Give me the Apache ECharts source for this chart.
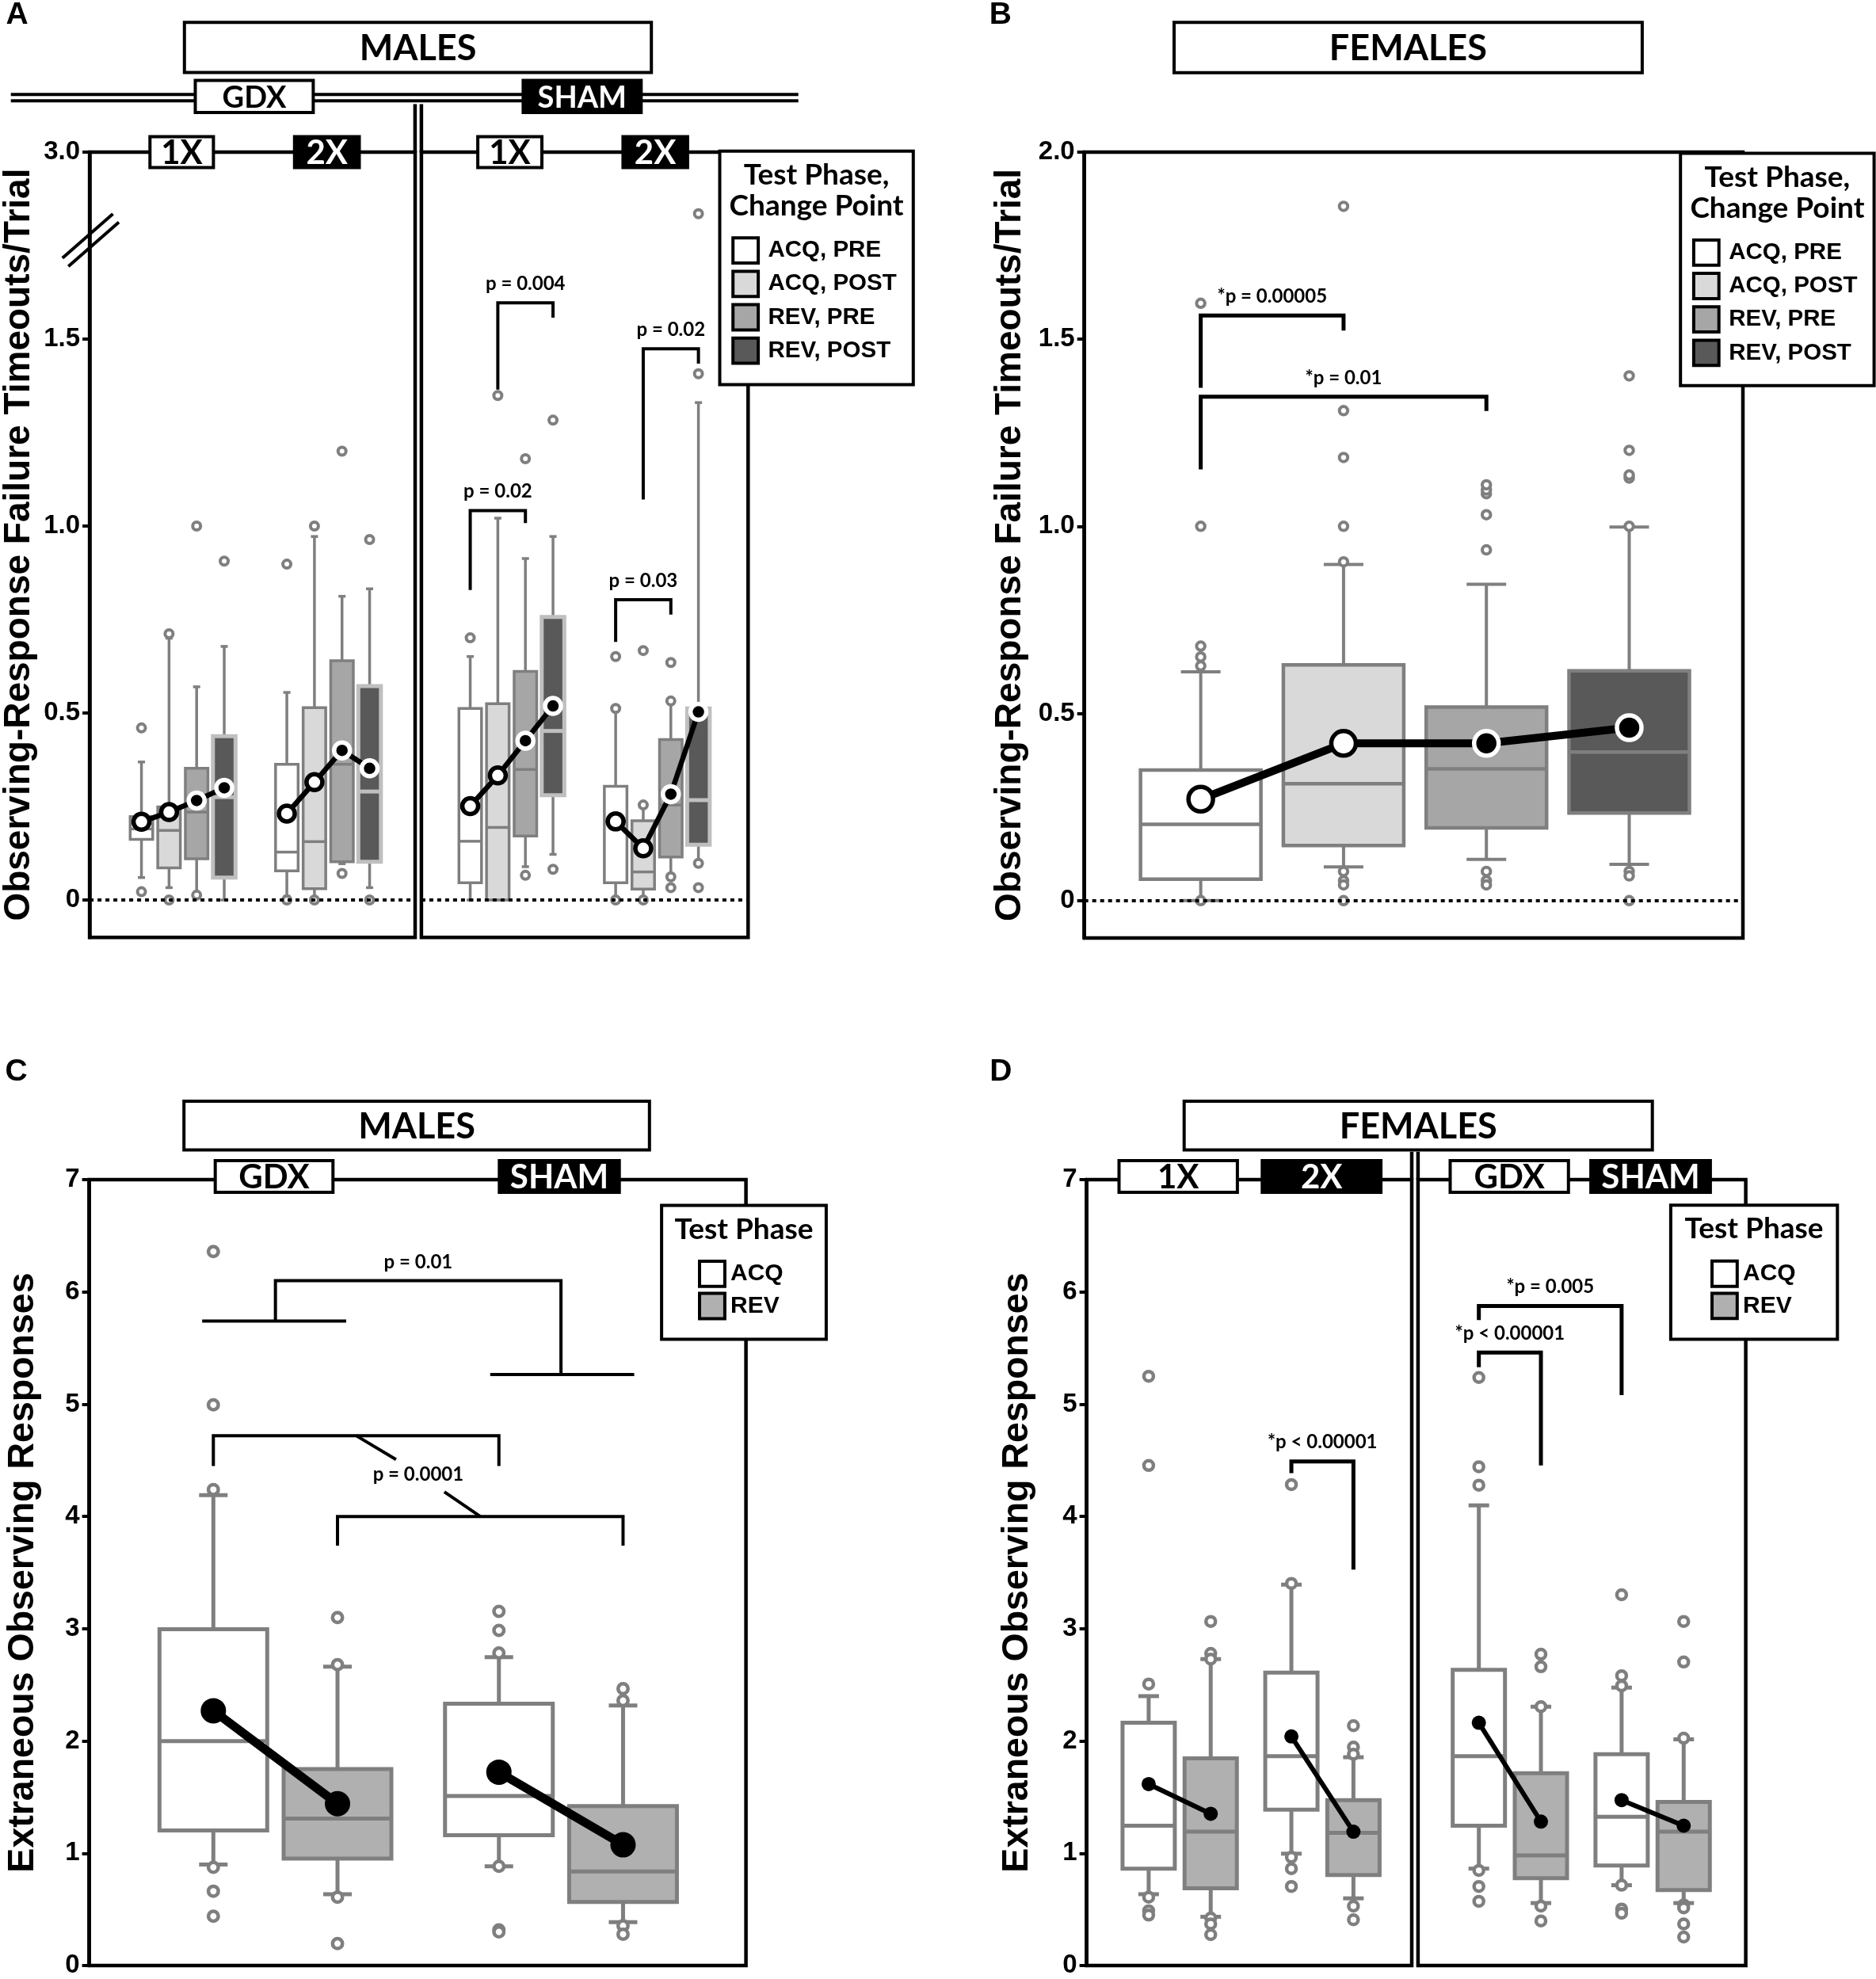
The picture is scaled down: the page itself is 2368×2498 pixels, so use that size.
<!DOCTYPE html>
<html>
<head>
<meta charset="utf-8">
<script src="https://cdn.jsdelivr.net/npm/echarts@6/dist/echarts.min.js"></script>
<style>
html, body { margin: 0; padding: 0; background: #fff; }
#main { width: 2368px; height: 2498px; }
</style>
</head>
<body>
<div id="main"></div>
<script>
// ---------- data ----------
var phases4 = ['ACQ, PRE', 'ACQ, POST', 'REV, PRE', 'REV, POST'];
var phases2 = ['ACQ', 'REV'];
var ticksA = [0, 0.5, 1, 1.5, 2];          // 2 sits above the axis break and reads 3.0

// panel A (males, failure timeouts/trial): [min, Q1, median, Q3, max] per phase
var boxGdx1x = [[0.06, 0.162, 0.19, 0.223, 0.369], [0.033, 0.086, 0.186, 0.249, 0.70],
                [0.017, 0.11, 0.235, 0.352, 0.57], [0, 0.06, 0.275, 0.438, 0.678]];
var boxGdx2x = [[0.01, 0.078, 0.128, 0.363, 0.555], [0.005, 0.03, 0.156, 0.514, 0.972],
                [0.097, 0.102, 0.363, 0.64, 0.812], [0.033, 0.102, 0.29, 0.572, 0.832]];
var boxSham1x = [[0, 0.046, 0.157, 0.512, 0.651], [0, 0, 0.194, 0.525, 1.021],
                 [0.089, 0.171, 0.349, 0.611, 0.913], [0.122, 0.28, 0.452, 0.757, 0.972]];
var boxSham2x = [[0, 0.046, 0.21, 0.304, 0.512], [0, 0.029, 0.075, 0.212, 0.254],
                 [0.062, 0.115, 0.254, 0.429, 0.532], [0.098, 0.148, 0.267, 0.512, 1.33]];
var meanGdx1x = [0.209, 0.235, 0.266, 0.30];
var meanGdx2x = [0.231, 0.315, 0.40, 0.352];
var meanSham1x = [0.251, 0.333, 0.426, 0.519];
var meanSham2x = [0.21, 0.138, 0.283, 0.503];
// outliers: [phase index, value]
var outGdx1x = [[0, 0.46], [0, 0.022], [1, 0.712], [1, 0], [2, 1.0], [2, 0.013], [3, 0.906]];
var outGdx2x = [[0, 0.898], [0, 0], [1, 1.0], [1, 0], [2, 1.2], [2, 0.071], [3, 0.964], [3, 0]];
var outSham1x = [[0, 0.701], [1, 1.349], [2, 1.18], [2, 0.066], [3, 1.283], [3, 0.082]];
var outSham2x = [[0, 0.651], [0, 0.512], [0, 0], [1, 0.667], [1, 0.254], [1, 0], [2, 0.635],
                 [2, 0.532], [2, 0.062], [2, 0.033], [3, 1.835], [3, 1.407], [3, 0.098], [3, 0.033]];
// brackets: [from box, to box, y at from end, y of bar, y at to end, text]
var sigA = [[0, 2, 0.829, 1.041, 1.008, 'p = 0.02'], [1, 3, 1.365, 1.597, 1.557, 'p = 0.004'],
            [4, 6, 0.69, 0.803, 0.763, 'p = 0.03'], [5, 7, 1.071, 1.474, 1.434, 'p = 0.02']];

// panel B (females, failure timeouts/trial)
var boxB = [[0, 0.057, 0.204, 0.349, 0.611], [0.09, 0.147, 0.312, 0.63, 0.898],
            [0.11, 0.194, 0.352, 0.517, 0.845], [0.097, 0.234, 0.397, 0.614, 0.998]];
var meanB = [0.271, 0.42, 0.42, 0.462];
var outB = [[0, 0.627], [0, 0.651], [0, 0.68], [0, 1.0], [0, 1.596], [0, 0],
            [1, 0.905], [1, 1.0], [1, 1.184], [1, 1.309], [1, 1.855], [1, 0.078], [1, 0.053], [1, 0.042], [1, 0],
            [2, 0.937], [2, 1.031], [2, 1.087], [2, 1.097], [2, 1.111], [2, 0.078], [2, 0.053], [2, 0.042],
            [3, 1.0], [3, 1.129], [3, 1.137], [3, 1.203], [3, 1.402], [3, 0.078], [3, 0.066], [3, 0]];
var sigB = [[0, 1, 1.37, 1.563, 1.523, '*p = 0.00005'], [0, 2, 1.152, 1.346, 1.308, '*p = 0.01']];

// panel C (males, extraneous observing responses)
var boxCGdx = [[0.901, 1.204, 1.999, 2.996, 4.19], [0.636, 0.954, 1.31, 1.75, 2.662]];
var boxCSham = [[0.885, 1.161, 1.511, 2.333, 2.747], [0.387, 0.567, 0.838, 1.421, 2.317]];
var meanCGdx = [2.27, 1.442];
var meanCSham = [1.723, 1.076];
var outCGdx = [[0, 6.36], [0, 4.995], [0, 4.24], [0, 0.875], [0, 0.663], [0, 0.44],
               [1, 3.10], [1, 2.68], [1, 0.61], [1, 0.196]];
var outCSham = [[0, 3.155], [0, 2.985], [0, 2.784], [0, 0.885], [0, 0.318], [0, 0.30],
                [1, 2.466], [1, 2.36], [1, 0.355], [1, 0.28]];
var sigCGroup = [5.74, 5.265, 6.1, 'p = 0.01'];          // GDX bar, SHAM bar, top
var sigCPhase = [[0, 2, 4.45, 4.72], [1, 3, 3.74, 4.0]]; // boxes, leg base, bar
var sigCPhaseLabel = [4.374, 'p = 0.0001'];

// panel D (females, extraneous observing responses)
var boxD1x = [[0.636, 0.864, 1.246, 2.163, 2.40], [0.435, 0.689, 1.193, 1.845, 2.73]];
var boxD2x = [[0.997, 1.389, 1.866, 2.609, 3.393], [0.599, 0.806, 1.182, 1.474, 1.856]];
var boxDGdx = [[0.864, 1.246, 1.866, 2.635, 4.099], [0.557, 0.779, 0.981, 1.713, 2.306]];
var boxDSham = [[0.716, 0.891, 1.326, 1.882, 2.476], [0.557, 0.673, 1.193, 1.458, 2.015]];
var meanD1x = [1.617, 1.352];
var meanD2x = [2.041, 1.193];
var meanDGdx = [2.163, 1.283];
var meanDSham = [1.474, 1.246];
var outD1x = [[0, 2.508], [0, 5.249], [0, 4.454], [0, 0.61], [0, 0.488], [0, 0.45],
              [1, 3.065], [1, 2.78], [1, 2.73], [1, 0.424], [1, 0.371], [1, 0.276]];
var outD2x = [[0, 4.284], [0, 3.404], [0, 0.965], [0, 0.864], [0, 0.705],
              [1, 2.137], [1, 1.946], [1, 1.882], [1, 0.53], [1, 0.408]];
var outDGdx = [[0, 5.238], [0, 4.443], [0, 4.279], [0, 0.848], [0, 0.705], [0, 0.573],
               [1, 2.773], [1, 2.662], [1, 2.306], [1, 0.53], [1, 0.398]];
var outDSham = [[0, 3.303], [0, 2.582], [0, 2.492], [0, 0.716], [0, 0.504], [0, 0.467],
                [1, 3.065], [1, 2.704], [1, 2.025], [1, 0.541], [1, 0.514], [1, 0.371], [1, 0.255]];
var sigDLeft = [[2, 3, 4.385, 4.49, 3.526, '*p < 0.00001']];
var sigDRight = [[0, 1, 5.33, 5.46, 4.454, '*p < 0.00001'], [0, 2, 5.75, 5.875, 5.08, '*p = 0.005']];

// ---------- layout ----------
var S = 2368 / 1487;                 // measured in 1487-wide units, drawn at 2368
function p(v) { return Math.round(v * S * 10) / 10; }
var GRAY = '#7f7f7f';
var ARIAL = '"Liberation Sans", Arial, sans-serif';
var HEAD = 'Lato, "Open Sans", sans-serif';
var FILL4 = ['#ffffff', '#d9d9d9', '#a6a6a6', '#595959'];
var FILL2 = ['#ffffff', '#b0b0b0'];
var FRAME = 4.5;

var slotsA = [[1.77, 2.77, 3.77, 4.77], [7.04, 8.04, 9.04, 10.04]];
var slotsAFlat = slotsA[0].concat(slotsA[1]);
var slotsB = [1, 2, 3, 4];
var slots2 = [1, 2, 3.3, 4.3];

var gridBoxes = [
  [71, 120.5, 258, 622.5],     // A: GDX
  [334, 120.5, 259, 622.5],    // A: SHAM
  [859.5, 120.5, 522, 623],    // B
  [70.7, 935, 520.6, 623],     // C
  [861.3, 935, 257.7, 623],    // D: 1X / 2X
  [1124, 935, 259.8, 623]      // D: GDX / SHAM
];
var xRanges = [[-0.11, 11.69], [0, 11.84], [0.185, 4.796], [0, 5.29], [0, 5.24], [0.02, 5.30]];

var grids = gridBoxes.map(function (g) {
  return { left: p(g[0]), top: p(g[1]), width: p(g[2]), height: p(g[3]),
           show: true, borderColor: '#000', borderWidth: FRAME, backgroundColor: 'transparent' };
});
var xAxes = xRanges.map(function (r, i) {
  return { type: 'value', gridIndex: i, min: r[0], max: r[1], show: false };
});

var labelFont = { fontSize: 33, fontWeight: 'bold', fontFamily: ARIAL, color: '#000', margin: 12 };
function yAxisOf(gi, min, max, name, gap, size, ticks, fmt) {
  var ax = {
    type: 'value', gridIndex: gi, min: min, max: max,
    splitLine: { show: false },
    axisLine: { show: true, onZero: false, lineStyle: { color: '#000', width: FRAME } },
    axisTick: { show: true, length: 9, lineStyle: { color: '#000', width: 4 } },
    axisLabel: Object.assign({ formatter: fmt }, labelFont),
    name: name, nameLocation: 'middle', nameGap: gap,
    nameTextStyle: { fontSize: size, fontWeight: 'bold', fontFamily: ARIAL, color: '#000' }
  };
  if (ticks) {
    ax.axisTick.customValues = ticks;
    ax.axisLabel.customValues = ticks;
  } else {
    ax.interval = 1;
  }
  return ax;
}
function hiddenY(gi, min, max) {
  return { type: 'value', gridIndex: gi, min: min, max: max, show: false };
}
var yAxes = [
  yAxisOf(0, -0.1, 2, 'Observing-Response Failure Timeouts/Trial', 66, 46, ticksA,
    function (v) { return v === 2 ? '3.0' : (v === 0 ? '0' : v.toFixed(1)); }),
  hiddenY(1, -0.1, 2),
  yAxisOf(2, -0.1, 2, 'Observing-Response Failure Timeouts/Trial', 70, 46, ticksA,
    function (v) { return v === 0 ? '0' : v.toFixed(1); }),
  yAxisOf(3, 0, 7, 'Extraneous Observing Responses', 60, 46.5, null, function (v) { return String(v); }),
  yAxisOf(4, 0, 7, 'Extraneous Observing Responses', 64, 46.5, null, function (v) { return String(v); }),
  hiddenY(5, 0, 7)
];

// ---------- series builders ----------
function boxRenderer(st) {
  return function (params, api) {
    var x = api.value(0), k = api.value(6);
    var lo = api.coord([x, api.value(1)]), q1 = api.coord([x, api.value(2)]);
    var md = api.coord([x, api.value(3)]), q3 = api.coord([x, api.value(4)]);
    var hi = api.coord([x, api.value(5)]);
    var cx = lo[0], hw = st.boxW / 2, cw = st.capW / 2;
    var edge = st.edge[k], ew = st.edgeW[k];
    function ws() { return { stroke: GRAY, lineWidth: st.whisker }; }
    return { type: 'group', children: [
      { type: 'line', shape: { x1: cx, y1: lo[1], x2: cx, y2: hi[1] }, style: ws() },
      { type: 'line', shape: { x1: cx - cw, y1: lo[1], x2: cx + cw, y2: lo[1] }, style: ws() },
      { type: 'line', shape: { x1: cx - cw, y1: hi[1], x2: cx + cw, y2: hi[1] }, style: ws() },
      { type: 'rect', shape: { x: cx - hw, y: q3[1], width: 2 * hw, height: q1[1] - q3[1] },
        style: { fill: st.fill[k], stroke: edge, lineWidth: ew } },
      { type: 'line', shape: { x1: cx - hw, y1: md[1], x2: cx + hw, y2: md[1] },
        style: { stroke: edge, lineWidth: ew } }
    ] };
  };
}

var series = [];
function addGroup(gi, box, mean, out, xs, st) {
  series.push({
    type: 'custom', xAxisIndex: gi, yAxisIndex: gi, z: 2, silent: true,
    data: box.map(function (b, k) { return [xs[k]].concat(b, [k]); }),
    renderItem: boxRenderer(st)
  });
  series.push({
    type: 'scatter', xAxisIndex: gi, yAxisIndex: gi, z: 3, silent: true,
    symbol: 'circle', symbolSize: st.outSize,
    itemStyle: { color: '#fff', borderColor: GRAY, borderWidth: st.outLine, opacity: 1 },
    data: out.map(function (o) { return [xs[o[0]], o[1]]; })
  });
  series.push({
    type: 'line', xAxisIndex: gi, yAxisIndex: gi, z: 4, silent: true,
    symbol: 'circle', symbolSize: st.meanSize, showSymbol: true,
    lineStyle: { color: '#000', width: st.meanLine },
    data: mean.map(function (m, k) { return { value: [xs[k], m], itemStyle: st.meanStyle(k) }; })
  });
}
function addZeroLine(gi) {
  series.push({
    type: 'scatter', xAxisIndex: gi, yAxisIndex: gi, z: 1, silent: true, data: [],
    markLine: { silent: true, symbol: ['none', 'none'], label: { show: false },
      lineStyle: { color: '#000', width: 4, type: [5, 5] }, data: [{ yAxis: 0 }] }
  });
}
function textEl(x, y, txt) {
  return { type: 'text', x: x, y: y,
    style: { text: txt, font: 'bold 24px ' + HEAD, fill: '#000', align: 'center', verticalAlign: 'middle' } };
}
function polyEl(points, lw) {
  return { type: 'polyline', shape: { points: points },
    style: { stroke: '#000', lineWidth: lw, fill: 'none', lineJoin: 'miter' } };
}
function addBrackets(gi, list, xs, lw) {
  series.push({
    type: 'custom', xAxisIndex: gi, yAxisIndex: gi, z: 5, silent: true,
    data: list.map(function (b, i) { return [xs[b[0]], b[2], xs[b[1]], b[4], b[3], i]; }),
    renderItem: function (params, api) {
      var a = api.coord([api.value(0), api.value(1)]);
      var t1 = api.coord([api.value(0), api.value(4)]);
      var t2 = api.coord([api.value(2), api.value(4)]);
      var c = api.coord([api.value(2), api.value(3)]);
      return { type: 'group', children: [
        polyEl([a, t1, t2, c], lw),
        textEl((t1[0] + t2[0]) / 2, t1[1] - 24, list[api.value(5)][5])
      ] };
    }
  });
}

function ringMean(k) {
  return k < 2 ? { color: '#fff', borderColor: '#000', borderWidth: 5.5 }
               : { color: '#000', borderColor: '#fff', borderWidth: 5.5 };
}
function dotMean() { return { color: '#000', borderWidth: 0 }; }

var stA = { boxW: 28.5, capW: 9, whisker: 3.5, fill: FILL4,
  edge: [GRAY, GRAY, GRAY, '#bfbfbf'], edgeW: [3.5, 3.5, 3.5, 5],
  outSize: 10, outLine: 4, meanSize: 20, meanLine: 6.5, meanStyle: ringMean };
var stB = { boxW: 152, capW: 50, whisker: 4, fill: FILL4,
  edge: [GRAY, GRAY, GRAY, GRAY], edgeW: [4.5, 4.5, 4.5, 4.5],
  outSize: 10.5, outLine: 4, meanSize: 31, meanLine: 10, meanStyle: ringMean };
var stC = { boxW: 136, capW: 36, whisker: 5, fill: FILL2,
  edge: [GRAY, GRAY], edgeW: [5, 5],
  outSize: 12.5, outLine: 4.5, meanSize: 32, meanLine: 11, meanStyle: dotMean };
var stD = { boxW: 66, capW: 26, whisker: 5, fill: FILL2,
  edge: [GRAY, GRAY], edgeW: [5, 5],
  outSize: 12, outLine: 4.5, meanSize: 18, meanLine: 6, meanStyle: dotMean };

// A
addZeroLine(0); addZeroLine(1);
addGroup(0, boxGdx1x, meanGdx1x, outGdx1x, slotsA[0], stA);
addGroup(0, boxGdx2x, meanGdx2x, outGdx2x, slotsA[1], stA);
addGroup(1, boxSham1x, meanSham1x, outSham1x, slotsA[0], stA);
addGroup(1, boxSham2x, meanSham2x, outSham2x, slotsA[1], stA);
addBrackets(1, sigA, slotsAFlat, 4);
// B
addZeroLine(2);
addGroup(2, boxB, meanB, outB, slotsB, stB);
addBrackets(2, sigB, slotsB, 5);
// C
addGroup(3, boxCGdx, meanCGdx, outCGdx, slots2.slice(0, 2), stC);
addGroup(3, boxCSham, meanCSham, outCSham, slots2.slice(2, 4), stC);
series.push({
  type: 'custom', xAxisIndex: 3, yAxisIndex: 3, z: 5, silent: true, data: [[0, 0]],
  renderItem: function (params, api) {
    var xs = slots2, kids = [];
    function pt(x, y) { return api.coord([x, y]); }
    var gMid = (xs[0] + xs[1]) / 2, sMid = (xs[2] + xs[3]) / 2;
    kids.push(polyEl([pt(xs[0] - 0.09, sigCGroup[0]), pt(xs[1] + 0.07, sigCGroup[0])], 4));
    kids.push(polyEl([pt(xs[2] - 0.07, sigCGroup[1]), pt(xs[3] + 0.09, sigCGroup[1])], 4));
    kids.push(polyEl([pt(gMid, sigCGroup[0]), pt(gMid, sigCGroup[2]),
                      pt(sMid, sigCGroup[2]), pt(sMid, sigCGroup[1])], 4));
    var top = pt((gMid + sMid) / 2, sigCGroup[2]);
    kids.push(textEl(top[0], top[1] - 23, sigCGroup[3]));
    sigCPhase.forEach(function (b) {
      kids.push(polyEl([pt(xs[b[0]], b[2]), pt(xs[b[0]], b[3]), pt(xs[b[1]], b[3]), pt(xs[b[1]], b[2])], 4));
    });
    var m1 = pt((xs[0] + xs[2]) / 2, sigCPhase[0][3]);
    var m2 = pt((xs[1] + xs[3]) / 2, sigCPhase[1][3]);
    var tc = [(m1[0] + m2[0]) / 2, pt(0, sigCPhaseLabel[0])[1]];
    kids.push(polyEl([m1, [tc[0] - 28, tc[1] - 19]], 4));
    kids.push(polyEl([[tc[0] + 33, tc[1] + 22], m2], 4));
    kids.push(textEl(tc[0], tc[1], sigCPhaseLabel[1]));
    return { type: 'group', children: kids };
  }
});
// D
addGroup(4, boxD1x, meanD1x, outD1x, slots2.slice(0, 2), stD);
addGroup(4, boxD2x, meanD2x, outD2x, slots2.slice(2, 4), stD);
addGroup(5, boxDGdx, meanDGdx, outDGdx, slots2.slice(0, 2), stD);
addGroup(5, boxDSham, meanDSham, outDSham, slots2.slice(2, 4), stD);
addBrackets(4, sigDLeft, slots2, 5);
addBrackets(5, sigDRight, slots2, 5);

// ---------- headers, legends, other drawn furniture ----------
var gfx = [];
function addRect(x1, y1, x2, y2, fill, lw) {
  gfx.push({ type: 'rect', z: 100, shape: { x: p(x1), y: p(y1), width: p(x2) - p(x1), height: p(y2) - p(y1) },
    style: { fill: fill, stroke: '#000', lineWidth: lw || 4 } });
}
function addText(x, y, txt, size, fam, color, align) {
  gfx.push({ type: 'text', z: 101, x: p(x), y: p(y),
    style: { text: txt, font: 'bold ' + size + 'px ' + fam, fill: color || '#000',
             align: align || 'center', verticalAlign: 'middle' } });
}
function addLine(x1, y1, x2, y2, lw) {
  gfx.push({ type: 'line', z: 100, shape: { x1: p(x1), y1: p(y1), x2: p(x2), y2: p(y2) },
    style: { stroke: '#000', lineWidth: lw || FRAME } });
}
function addTag(x1, x2, y1, y2, txt, dark, size) {
  addRect(x1, y1, x2, y2, dark ? '#000' : '#fff');
  addText((x1 + x2) / 2, (y1 + y2) / 2 + 1, txt, size, HEAD, dark ? '#fff' : '#000');
}
function legend4(x1, y1, x2, y2) {
  addRect(x1, y1, x2, y2, '#fff');
  var cx = (x1 + x2) / 2;
  addText(cx, y1 + 19, 'Test Phase,', 37, HEAD);
  addText(cx, y1 + 43.5, 'Change Point', 37, HEAD);
  phases4.forEach(function (name, i) {
    var cy = y1 + 78.7 + i * 26.5;
    addRect(x1 + 10.5, cy - 10, x1 + 30.5, cy + 10, FILL4[i]);
    addText(x1 + 38.3, cy, name, 29.5, ARIAL, '#000', 'left');
  });
}
function legend2(x1, y1, x2, y2, sq) {
  addRect(x1, y1, x2, y2, '#fff');
  addText((x1 + x2) / 2, y1 + 19, 'Test Phase', 37, HEAD);
  phases2.forEach(function (name, i) {
    var cy = y1 + 54.3 + i * 25.5;
    addRect(x1 + sq, cy - 10, x1 + sq + 20, cy + 10, FILL2[i]);
    addText(x1 + sq + 24.5, cy, name, 30, ARIAL, '#000', 'left');
  });
}

// A
addText(13.6, 12, 'A', 39, ARIAL);
addTag(146.2, 516.3, 17.7, 57.5, 'MALES', false, 45);
addLine(8.6, 74.9, 632.8, 74.9, 4);
addLine(8.6, 79.9, 632.8, 79.9, 4);
addLine(329, 82.5, 329, 121);
addLine(334, 82.5, 334, 121);
addTag(154.8, 248.3, 63.8, 89.2, 'GDX', false, 38);
addTag(414.7, 508.2, 63.8, 89.2, 'SHAM', true, 38);
addTag(118.9, 169.2, 108.3, 132.8, '1X', false, 42);
addTag(233.5, 284.8, 108.3, 132.8, '2X', true, 42);
addTag(378.7, 429.5, 108.3, 132.8, '1X', false, 42);
addTag(493.8, 545, 108.3, 132.8, '2X', true, 42);
addLine(49.5, 204.5, 89.5, 169.5, 4);
addLine(54.2, 211.2, 94.2, 176.2, 4);
legend4(570.5, 119.8, 723.9, 304.9);
// B
addText(793, 12, 'B', 39, ARIAL);
addTag(930.6, 1301.7, 17.8, 57.6, 'FEMALES', false, 45);
legend4(1332, 121.5, 1485.5, 305.6);
// C
addText(13, 850, 'C', 39, ARIAL);
addTag(145.8, 514.8, 872.8, 911.5, 'MALES', false, 45);
addTag(170.6, 263.9, 920, 945, 'GDX', false, 42);
addTag(395.8, 490.9, 920, 945, 'SHAM', true, 42);
legend2(524.4, 955.4, 654.9, 1061.6, 30.1);
// D
addText(793.3, 850, 'D', 39, ARIAL);
addTag(938.6, 1309.7, 872.8, 911.5, 'FEMALES', false, 45);
addLine(1119, 912.9, 1119, 935);
addLine(1124, 912.9, 1124, 935);
addTag(887, 980.8, 920, 945, '1X', false, 42);
addTag(1000.5, 1094.6, 920, 945, '2X', true, 42);
addTag(1149.5, 1243.2, 920, 945, 'GDX', false, 42);
addTag(1261, 1355.7, 920, 945, 'SHAM', true, 42);
legend2(1324.3, 955.3, 1456.4, 1061.5, 32.7);

var chart = echarts.init(document.getElementById('main'));
chart.setOption({
  backgroundColor: '#fff',
  animation: false,
  grid: grids,
  xAxis: xAxes,
  yAxis: yAxes,
  series: series,
  graphic: { elements: gfx }
});
</script>
</body>
</html>
